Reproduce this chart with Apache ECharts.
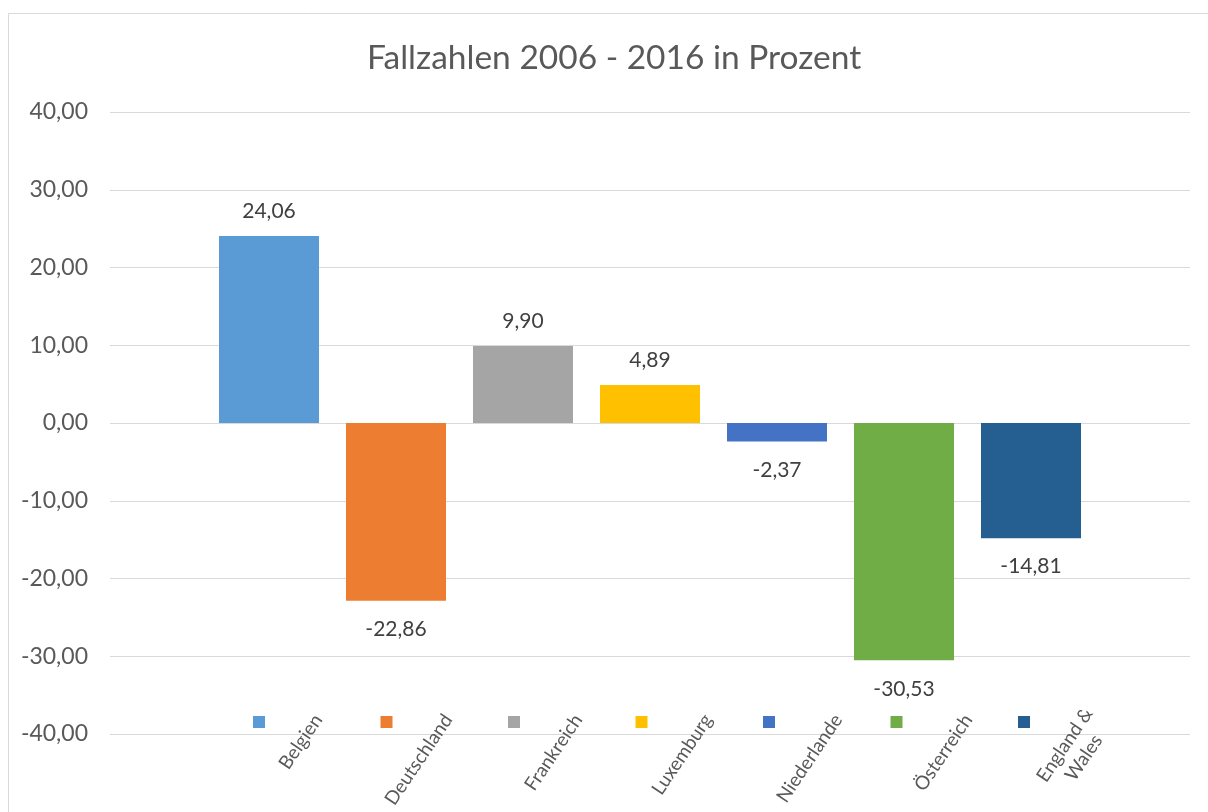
<!DOCTYPE html>
<html>
<head>
<meta charset="utf-8">
<script src="https://cdn.jsdelivr.net/npm/echarts@6/dist/echarts.min.js"></script>
<style>
  html, body { margin: 0; padding: 0; background: #ffffff; }
  #chart { width: 1208px; height: 812px; }
</style>
</head>
<body>
<div id="chart"></div>
<script>
const titleText = 'Fallzahlen 2006 - 2016 in Prozent';
const countries = ['Belgien', 'Deutschland', 'Frankreich', 'Luxemburg', 'Niederlande', 'Österreich', 'England & Wales'];
const values = [24.06, -22.86, 9.90, 4.89, -2.37, -30.53, -14.81];
const colors = ['#5B9BD5', '#ED7D31', '#A5A5A5', '#FFC000', '#4472C4', '#70AD47', '#255E91'];
const yTicks = { min: -40, max: 40, interval: 10 };

const FONT = 'Lato';
const fmt = v => v.toFixed(2).replace('.', ',');

const chart = echarts.init(document.getElementById('chart'), null, { renderer: 'canvas' });

const series = countries.map((name, i) => ({
  name: name,
  type: 'bar',
  xAxisIndex: 0,
  yAxisIndex: 0,
  barWidth: 100,
  barGap: '27%',
  itemStyle: { color: colors[i] },
  label: {
    show: true,
    position: values[i] >= 0 ? 'top' : 'bottom',
    distance: values[i] >= 0 ? 14 : 18,
    formatter: p => fmt(p.value),
    color: '#404040',
    fontFamily: FONT,
    fontSize: 21
  },
  data: [values[i]]
}));

chart.setOption({
  animation: false,
  backgroundColor: '#ffffff',
  title: {
    text: titleText,
    left: 362,
    top: 36,
    textStyle: { color: '#595959', fontFamily: FONT, fontSize: 33.5, fontWeight: 'normal' }
  },
  graphic: [{
    type: 'rect',
    shape: { x: 8.5, y: 13.5, width: 1300, height: 900 },
    style: { fill: 'none', stroke: '#d9d9d9', lineWidth: 1 },
    silent: true
  }],
  legend: {
    data: countries,
    left: 248,
    top: 711,
    itemWidth: 12,
    itemHeight: 12,
    itemGap: 115.5,
    icon: 'rect',
    formatter: () => '',
    textStyle: { fontSize: 1 },
    selectedMode: false
  },
  grid: [
    { left: 110, right: 18, top: 112, bottom: 78 },
    { left: 253, width: 910, top: 600, height: 118 }
  ],
  xAxis: [
    {
      type: 'category',
      gridIndex: 0,
      data: [''],
      axisLine: { show: false },
      axisTick: { show: false },
      axisLabel: { show: false }
    },
    {
      type: 'category',
      gridIndex: 1,
      data: countries,
      axisLine: { show: false },
      axisTick: { show: false },
      axisLabel: {
        rotate: 56,
        margin: 0,
        color: '#595959',
        fontFamily: FONT,
        fontSize: 19,
        interval: 0,
        lineHeight: 23,
        formatter: v => v.split(' & ').length > 1
          ? '{c|' + v.replace(' & ', ' &}\n{c|') + '}'
          : v,
        rich: {
          c: { align: 'center', color: '#595959', fontFamily: FONT, fontSize: 19, lineHeight: 23 }
        }
      }
    }
  ],
  yAxis: [
    {
      type: 'value',
      gridIndex: 0,
      min: yTicks.min,
      max: yTicks.max,
      interval: yTicks.interval,
      axisLine: { show: false },
      axisTick: { show: false },
      splitLine: { lineStyle: { color: '#d9d9d9', width: 1 } },
      axisLabel: {
        formatter: v => fmt(v),
        color: '#595959',
        fontFamily: FONT,
        fontSize: 23,
        margin: 22
      }
    },
    {
      type: 'value',
      gridIndex: 1,
      show: false
    }
  ],
  series: series
});
</script>
</body>
</html>
